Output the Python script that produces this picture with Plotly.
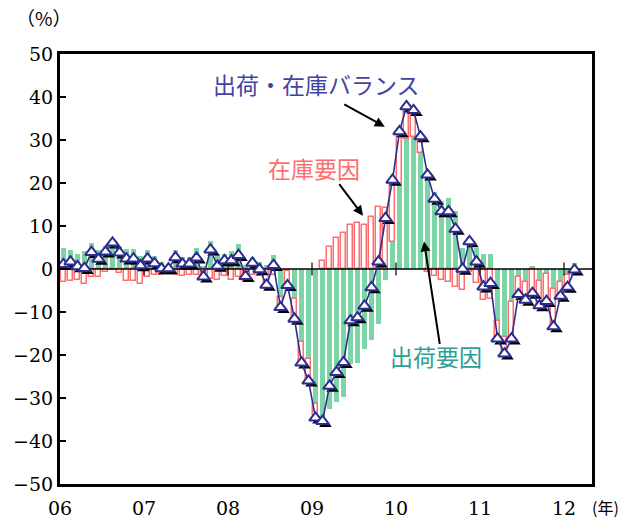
import numpy as np
import plotly.graph_objects as go

# Year tick labels (Jan of each year)
year_labels = ["06", "07", "08", "09", "10", "11", "12"]

# Monthly series, Jan 2006 - Feb 2012 (%)
shipment = [
    4.9, 4.4, 3.4, 4.1, 6.1, 4.4, 5.4, 6.0, 5.4, 4.7, 4.7, 3.1,
    4.4, 3.1, 1.6, 1.2, 4.4, 2.7, 2.9, 4.9, 0.8, 6.5, 3.4, 3.5,
    4.1, 5.9, 1.0, 2.7, 1.7, 1.0, 3.3, -6.5, -0.5, -7.0, -17.0, -20.9,
    -31.5, -36.8, -32.5, -31.0, -29.8, -22.0, -21.9, -18.6, -16.6, -12.8, -2.5, 6.2,
    19.7, 30.3, 30.6, 26.9, 22.5, 17.9, 15.9, 16.5, 13.6, 5.0, 7.4, 4.8,
    3.4, 3.6, -12.0, -15.9, -7.7, -1.9, -3.1, 0.6, -2.7, -1.2, -4.6, -3.1,
    -1.5, 1.3,
]
inventory = [
    -3.0, -2.7, -2.5, -3.6, -1.9, -1.9, -0.7, -0.3, -1.0, -2.7, -2.7, -3.6,
    -1.9, -1.5, -1.3, -1.1, -1.5, -1.7, -1.5, -1.5, -2.5, -2.3, -2.5, -1.7,
    -2.5, -1.9, -2.7, -1.5, -1.7, -4.6, -1.5, -2.5, -3.2, -4.6, -4.8, -5.2,
    -3.1, 1.8, 5.2, 7.2, 8.4, 10.3, 10.8, 10.3, 12.2, 14.4, 14.2, 14.0,
    12.3, 7.5, 6.3, 3.9, -0.6, -1.6, -2.5, -3.1, -4.3, -4.8, -0.8, -3.2,
    -7.2, -6.9, -4.2, -3.8, -8.5, -4.3, -4.1, -6.2, -5.8, -6.3, -8.8, -3.2,
    -2.7, -1.5,
]
balance = [
    1.1, 1.7, 0.6, 0.2, 3.9, 2.3, 4.0, 6.1, 3.8, 2.4, 2.4, 0.8,
    2.4, 1.3, 0.1, 0.1, 2.7, 1.2, 1.2, 2.6, -1.8, 4.5, 0.7, 2.0,
    2.0, 3.2, -1.7, 1.4, -0.1, -3.7, 0.9, -8.9, -3.8, -11.6, -21.8, -26.0,
    -34.6, -35.4, -27.2, -24.0, -21.7, -12.0, -11.3, -8.6, -4.3, 1.7, 11.8, 20.7,
    32.0, 37.8, 36.9, 30.8, 21.9, 16.3, 13.4, 13.4, 9.3, 0.0, 6.4, 1.7,
    -4.1, -3.3, -16.2, -19.7, -16.2, -5.9, -7.2, -5.6, -8.5, -7.5, -13.4, -6.3,
    -4.2, -0.2,
]

x = np.arange(len(balance))
year_starts = [12 * k - 0.5 for k in range(len(year_labels))]

X_RANGE = [-0.5, 75.5]
Y_RANGE = [-50, 50]
W, H = 620, 522
MARGIN = dict(l=60, r=28, t=54, b=38)
plot_w = W - MARGIN["l"] - MARGIN["r"]
plot_h = H - MARGIN["t"] - MARGIN["b"]
# drop-shadow offset for the markers: 3 px right, 3 px down
sx = 3 * (X_RANGE[1] - X_RANGE[0]) / plot_w
sy = 3 * (Y_RANGE[1] - Y_RANGE[0]) / plot_h

GREEN = "#7DD5A7"
RED = "#FF6E6E"
NAVY = "#2D2D8F"
NUM_FONT = "DejaVu Serif, Noto Sans CJK JP"
JP_FONT = "Noto Sans CJK JP"

fig = go.Figure()

fig.add_bar(x=x, y=shipment, width=0.72,
            marker=dict(color=GREEN, line=dict(width=0)))
fig.add_bar(x=x, y=inventory, width=0.62,
            marker=dict(color="white", line=dict(color=RED, width=1.5)))

# zero line and year marks on it
fig.add_scatter(x=X_RANGE, y=[0, 0], mode="lines",
                line=dict(color="black", width=1.5), hoverinfo="skip")
tx, ty = [], []
for b in year_starts[1:]:
    tx += [b, b, None]
    ty += [-1.5, 1.5, None]
fig.add_scatter(x=tx, y=ty, mode="lines",
                line=dict(color="black", width=1.2), hoverinfo="skip")

# marker shadows
fig.add_scatter(x=x, y=balance, xaxis="x2", yaxis="y2", mode="markers",
                marker=dict(symbol="triangle-up", size=11, color="black"))
# balance line
fig.add_scatter(x=x, y=balance, xaxis="x3", yaxis="y3", mode="lines+markers",
                line=dict(color=NAVY, width=1.6),
                marker=dict(symbol="triangle-up", size=11, color="white",
                            line=dict(color=NAVY, width=2)))

fig.update_layout(
    width=W, height=H, margin=MARGIN,
    barmode="relative", bargap=0,
    showlegend=False,
    paper_bgcolor="white", plot_bgcolor="white",
    xaxis=dict(range=X_RANGE, tickvals=year_starts, ticktext=year_labels,
               ticks="", showgrid=False, zeroline=False, automargin=False,
               showline=True, mirror=True, linewidth=3, linecolor="black",
               tickfont=dict(family=NUM_FONT, size=19, color="black"),
               ticklabelstandoff=5),
    yaxis=dict(range=Y_RANGE, dtick=10, ticks="inside", ticklen=6,
               tickwidth=1.5, tickcolor="black", automargin=False,
               showgrid=False, zeroline=False,
               showline=True, mirror=True, linewidth=3, linecolor="black",
               tickfont=dict(family=NUM_FONT, size=19, color="black")),
    xaxis2=dict(overlaying="x", range=[X_RANGE[0] - sx, X_RANGE[1] - sx], visible=False),
    yaxis2=dict(overlaying="y", range=[Y_RANGE[0] + sy, Y_RANGE[1] + sy], visible=False),
    xaxis3=dict(overlaying="x", range=X_RANGE, visible=False),
    yaxis3=dict(overlaying="y", range=Y_RANGE, visible=False),
)

annotations = [
    dict(text="（%）", xref="paper", yref="paper", x=-0.03, y=1.084,
         xanchor="center", yanchor="middle",
         showarrow=False, font=dict(family=JP_FONT, size=19, color="black")),
    dict(text="(年)", xref="paper", yref="paper", x=1.025, y=-0.053,
         xanchor="center", yanchor="middle",
         showarrow=False, font=dict(family=JP_FONT, size=16, color="black")),
    dict(text="出荷・在庫バランス", x=36.1, y=43.1, showarrow=False,
         font=dict(family=JP_FONT, size=23, color="#4343A3")),
    dict(text="在庫要因", x=35.8, y=23.4, showarrow=False,
         font=dict(family=JP_FONT, size=23, color="#FF6E6E")),
    dict(text="出荷要因", x=53.2, y=-20.3, showarrow=False,
         font=dict(family=JP_FONT, size=23, color="#2E9E96")),
    dict(text="", x=45.9, y=33.1, ax=-42, ay=-23, showarrow=True,
         arrowhead=2, arrowsize=1, arrowwidth=2, arrowcolor="black"),
    dict(text="", x=42.8, y=12.4, ax=-25, ay=-33, showarrow=True,
         arrowhead=2, arrowsize=1, arrowwidth=2, arrowcolor="black"),
    dict(text="", x=51.5, y=6.4, ax=16, ay=104, showarrow=True,
         arrowhead=2, arrowsize=1, arrowwidth=2, arrowcolor="black"),
]
fig.update_layout(annotations=annotations)

fig.write_html("out.html")
